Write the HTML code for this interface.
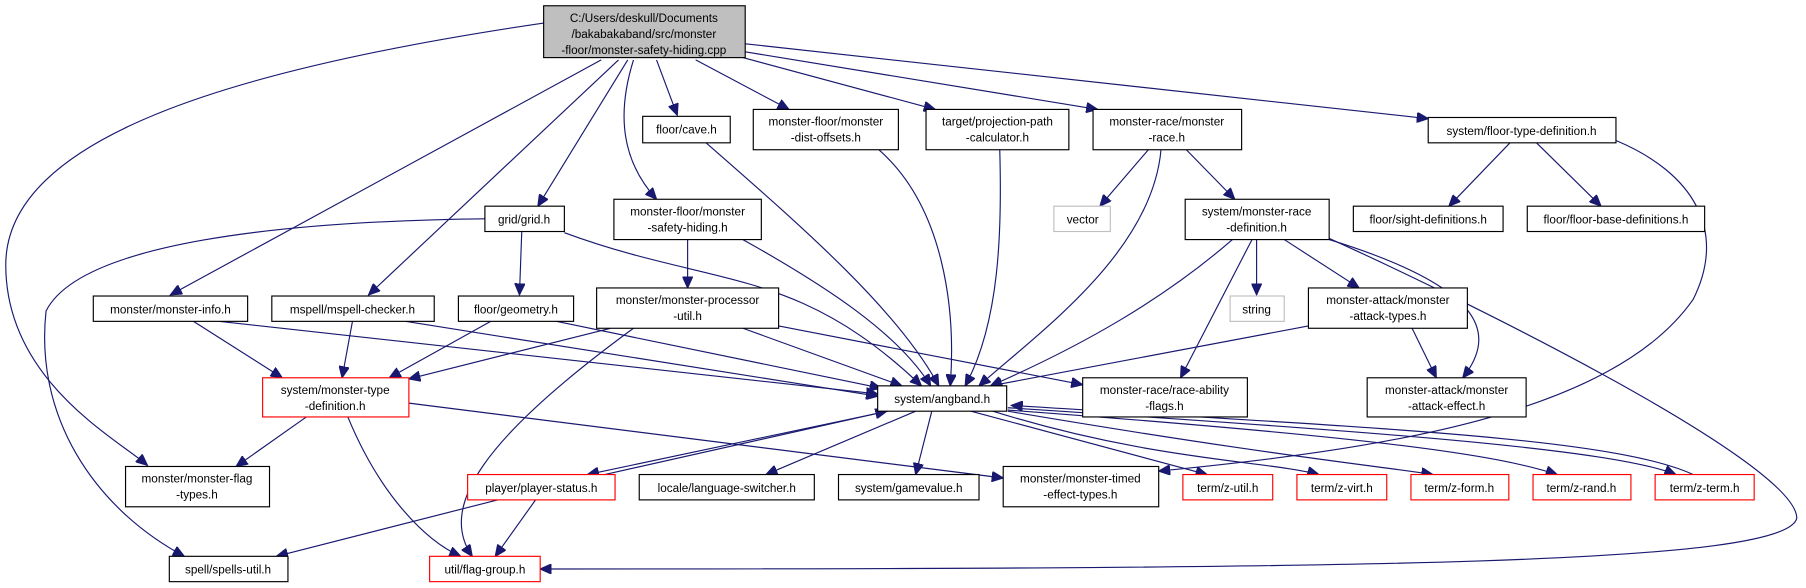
<!DOCTYPE html>
<html><head><meta charset="utf-8"><style>
html,body{margin:0;padding:0;background:#fff;}
svg{display:block}
text{font-family:"Liberation Sans",sans-serif;font-size:10.2px;fill:#000;text-anchor:middle}
.b{fill:#fff;stroke:#000;stroke-width:1}
.r{fill:#fff;stroke:#f00;stroke-width:1}
.g{fill:#fff;stroke:#bfbfbf;stroke-width:1}
.e{fill:none;stroke:#191970;stroke-width:1}
</style></head><body>
<svg width="1806" height="588" viewBox="0 0 1568 510.5" xmlns="http://www.w3.org/2000/svg">
<defs><marker id="a" markerUnits="userSpaceOnUse" markerWidth="11" markerHeight="9" refX="10" refY="4.5" orient="auto"><path d="M0,0 L10,4.5 L0,9 z" fill="#191970" stroke="#191970"/></marker></defs>
<g marker-end="url(#a)">
<path class="e" d="M472,20 C200,60 5,120 5,230 C5,330 100,380 128,404"/>
<path class="e" d="M522,52 L148,256"/>
<path class="e" d="M537,52 L320,256"/>
<path class="e" d="M545,52 L467,179"/>
<path class="e" d="M550,52 C535,100 540,140 570,173"/>
<path class="e" d="M570,52 L588,100"/>
<path class="e" d="M604,52 L685,95"/>
<path class="e" d="M645,50 L812,95"/>
<path class="e" d="M647,45 L953,95"/>
<path class="e" d="M647,38 L1240,103"/>
<path class="e" d="M421,190 C250,192 70,210 40,270 C30,360 80,440 160,483"/>
<path class="e" d="M453,201 L451,256"/>
<path class="e" d="M490,202 C620,250 690,230 800,335"/>
<path class="e" d="M597,208 L597,250"/>
<path class="e" d="M645,208 C720,250 780,290 808,335"/>
<path class="e" d="M613,124 C700,200 780,270 815,335"/>
<path class="e" d="M763,130 C820,180 830,270 825,335"/>
<path class="e" d="M868,130 C870,200 868,280 838,335"/>
<path class="e" d="M997,130 L955,179"/>
<path class="e" d="M1008,130 C1000,220 900,290 850,335"/>
<path class="e" d="M1030,130 L1072,173"/>
<path class="e" d="M1311,124 L1258,179"/>
<path class="e" d="M1334,124 L1390,179"/>
<path class="e" d="M1403,122 C1470,150 1500,200 1470,260 C1400,360 1200,390 1006,409"/>
<path class="e" d="M1070,208 C1010,260 940,300 860,335"/>
<path class="e" d="M1087,208 L1025,328"/>
<path class="e" d="M1091,208 L1091,256"/>
<path class="e" d="M1115,208 L1180,250"/>
<path class="e" d="M1154,208 C1290,250 1300,290 1270,328"/>
<path class="e" d="M1154,207 C1250,250 1560,400 1560,450 C1550,490 1200,494 469,494"/>
<path class="e" d="M1136,283 L860,335"/>
<path class="e" d="M1226,285 L1247,328"/>
<path class="e" d="M168,279 L245,328"/>
<path class="e" d="M190,279 L762,342"/>
<path class="e" d="M306,279 L297,328"/>
<path class="e" d="M352,279 L762,344"/>
<path class="e" d="M426,279 L338,328"/>
<path class="e" d="M483,279 L765,337"/>
<path class="e" d="M530,285 L355,329"/>
<path class="e" d="M550,285 C420,380 380,440 410,483"/>
<path class="e" d="M645,285 L783,335"/>
<path class="e" d="M676,283 L940,334"/>
<path class="e" d="M266,362 L205,405"/>
<path class="e" d="M302,362 C330,430 370,470 400,483"/>
<path class="e" d="M355,350 L871,415"/>
<path class="e" d="M780,355 L510,412"/>
<path class="e" d="M525,412 L770,357"/>
<path class="e" d="M795,357 L665,412"/>
<path class="e" d="M809,357 L795,412"/>
<path class="e" d="M843,357 L1048,412"/>
<path class="e" d="M862,357 C1000,400 1100,400 1145,412"/>
<path class="e" d="M875,357 C1100,395 1200,405 1244,412"/>
<path class="e" d="M875,356 C1200,380 1300,395 1352,412"/>
<path class="e" d="M875,354 C1200,375 1400,390 1455,412"/>
<path class="e" d="M1470,412 C1400,380 1200,372 878,352"/>
<path class="e" d="M432,434 L240,483"/>
<path class="e" d="M465,434 L430,483"/>
</g>
<rect x="472" y="5" width="175" height="45" fill="#bfbfbf" stroke="#000"/>
<text x="559" y="19">C:/Users/deskull/Documents</text>
<text x="559" y="33">/bakabakaband/src/monster</text>
<text x="559" y="47">-floor/monster-safety-hiding.cpp</text>
<rect class="b" x="558" y="101" width="76" height="23"/><text x="596" y="116">floor/cave.h</text>
<rect class="b" x="654" y="95" width="126" height="35"/><text x="717" y="109">monster-floor/monster</text><text x="717" y="123">-dist-offsets.h</text>
<rect class="b" x="804" y="95" width="124" height="35"/><text x="866" y="109">target/projection-path</text><text x="866" y="123">-calculator.h</text>
<rect class="b" x="949" y="95" width="129" height="35"/><text x="1013" y="109">monster-race/monster</text><text x="1013" y="123">-race.h</text>
<rect class="b" x="1240" y="102" width="163" height="22"/><text x="1321" y="117">system/floor-type-definition.h</text>
<rect class="g" x="915" y="179" width="49" height="22"/><text x="940" y="194">vector</text>
<rect class="b" x="1029" y="173" width="125" height="35"/><text x="1091" y="187">system/monster-race</text><text x="1091" y="201">-definition.h</text>
<rect class="b" x="1175" y="179" width="130" height="22"/><text x="1240" y="194">floor/sight-definitions.h</text>
<rect class="b" x="1326" y="179" width="154" height="22"/><text x="1403" y="194">floor/floor-base-definitions.h</text>
<rect class="b" x="421" y="179" width="69" height="22"/><text x="455" y="194">grid/grid.h</text>
<rect class="b" x="533" y="173" width="128" height="35"/><text x="597" y="187">monster-floor/monster</text><text x="597" y="201">-safety-hiding.h</text>
<rect class="b" x="518" y="250" width="158" height="35"/><text x="597" y="264">monster/monster-processor</text><text x="597" y="278">-util.h</text>
<rect class="b" x="81" y="257" width="134" height="22"/><text x="148" y="272">monster/monster-info.h</text>
<rect class="b" x="236" y="257" width="141" height="22"/><text x="306" y="272">mspell/mspell-checker.h</text>
<rect class="b" x="398" y="257" width="100" height="22"/><text x="448" y="272">floor/geometry.h</text>
<rect class="g" x="1068" y="257" width="47" height="22"/><text x="1091" y="272">string</text>
<rect class="b" x="1136" y="250" width="138" height="35"/><text x="1205" y="264">monster-attack/monster</text><text x="1205" y="278">-attack-types.h</text>
<rect class="b" x="762" y="335" width="112" height="22"/><text x="818" y="350">system/angband.h</text>
<rect class="b" x="940" y="328" width="143" height="34"/><text x="1011" y="342">monster-race/race-ability</text><text x="1011" y="356">-flags.h</text>
<rect class="b" x="1187" y="328" width="138" height="34"/><text x="1256" y="342">monster-attack/monster</text><text x="1256" y="356">-attack-effect.h</text>
<rect class="r" x="228" y="328" width="127" height="34"/><text x="291" y="342">system/monster-type</text><text x="291" y="356">-definition.h</text>
<rect class="b" x="109" y="405" width="125" height="35"/><text x="171" y="419">monster/monster-flag</text><text x="171" y="433">-types.h</text>
<rect class="r" x="406" y="412" width="128" height="22"/><text x="470" y="427">player/player-status.h</text>
<rect class="b" x="555" y="412" width="152" height="22"/><text x="631" y="427">locale/language-switcher.h</text>
<rect class="b" x="728" y="412" width="122" height="22"/><text x="789" y="427">system/gamevalue.h</text>
<rect class="b" x="871" y="405" width="135" height="35"/><text x="938" y="419">monster/monster-timed</text><text x="938" y="433">-effect-types.h</text>
<rect class="r" x="1027" y="412" width="78" height="22"/><text x="1066" y="427">term/z-util.h</text>
<rect class="r" x="1126" y="412" width="78" height="22"/><text x="1165" y="427">term/z-virt.h</text>
<rect class="r" x="1225" y="412" width="85" height="22"/><text x="1267" y="427">term/z-form.h</text>
<rect class="r" x="1331" y="412" width="85" height="22"/><text x="1373" y="427">term/z-rand.h</text>
<rect class="r" x="1437" y="412" width="86" height="22"/><text x="1480" y="427">term/z-term.h</text>
<rect class="b" x="147" y="483" width="103" height="22"/><text x="198" y="498">spell/spells-util.h</text>
<rect class="r" x="373" y="483" width="96" height="22"/><text x="421" y="498">util/flag-group.h</text>
</svg>
</body></html>
